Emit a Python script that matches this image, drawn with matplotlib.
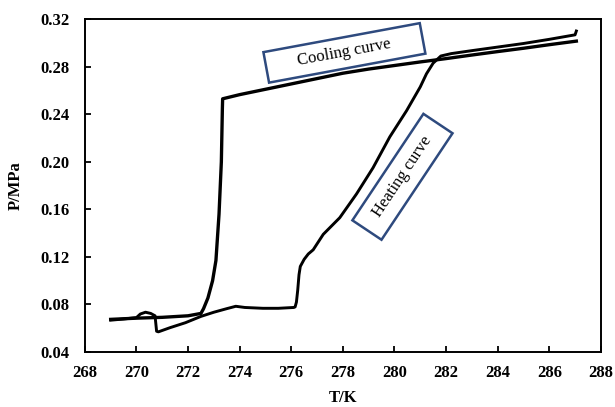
import matplotlib
matplotlib.use("Agg")
import matplotlib.pyplot as plt
import matplotlib.patches as mpatches
import matplotlib.transforms as mtransforms

# Cooling curve (from high T down to low T)
cooling_T = [287.05, 286.0, 285.0, 284.0, 283.0, 282.0, 281.0, 280.0, 279.0, 278.0,
             277.0, 276.0, 275.0, 274.0, 273.34, 273.33, 273.29, 273.2, 273.08,
             272.95, 272.77, 272.6, 272.5, 272.0, 271.0, 270.0, 269.0]
cooling_P = [0.3015, 0.2985, 0.2955, 0.2927, 0.2898, 0.2868, 0.2840, 0.2810, 0.2780, 0.2745,
             0.2700, 0.2655, 0.2610, 0.2565, 0.2530, 0.2450, 0.2000, 0.1560, 0.1170,
             0.1000, 0.0855, 0.0765, 0.0725, 0.0705, 0.0692, 0.0685, 0.0675]

# Heating curve (from low T up to high T)
heating_T = [269.0, 269.5, 270.0, 270.15, 270.35, 270.55, 270.72, 270.78, 270.85, 271.3,
             271.9, 272.5, 273.0, 273.5, 273.85, 274.2, 274.9, 275.5, 276.1, 276.15,
             276.2, 276.25, 276.3, 276.35, 276.5, 276.66, 276.85, 277.24, 277.88, 278.53,
             279.17, 279.82, 280.47, 281.0, 281.24, 281.5, 281.8, 282.2, 283.0, 284.0,
             285.0, 286.0, 287.0, 287.05]
heating_P = [0.0668, 0.0678, 0.0690, 0.0720, 0.0735, 0.0725, 0.0705, 0.0575, 0.0570, 0.0605,
             0.0647, 0.0700, 0.0735, 0.0765, 0.0785, 0.0775, 0.0768, 0.0768, 0.0775, 0.0780,
             0.0820, 0.0920, 0.1050, 0.1120, 0.1180, 0.1225, 0.1260, 0.1390, 0.1530, 0.1730,
             0.1950, 0.2210, 0.2430, 0.2630, 0.2740, 0.2830, 0.2890, 0.2910, 0.2935, 0.2965,
             0.2995, 0.3030, 0.3068, 0.3100]

x_ticks = [268, 270, 272, 274, 276, 278, 280, 282, 284, 286, 288]
y_ticks = [0.04, 0.08, 0.12, 0.16, 0.20, 0.24, 0.28, 0.32]
x_label = "T/K"
y_label = "P/MPa"

serif = "Liberation Serif"
fig = plt.figure(figsize=(6.15, 4.07), dpi=100)
ax = fig.add_axes([0.138, 0.135, 0.839, 0.818])

ax.plot(cooling_T, cooling_P, color="black", lw=2.4, solid_joinstyle="round")
ax.plot(heating_T, heating_P, color="black", lw=2.1, solid_joinstyle="round")

ax.set_xlim(268, 288)
ax.set_ylim(0.04, 0.32)
ax.set_xticks(x_ticks)
ax.set_yticks(y_ticks)
ax.set_xticklabels([str(t) for t in x_ticks], fontfamily=serif, fontweight="bold", fontsize=12)
ax.set_yticklabels([f"{t:.2f}" for t in y_ticks], fontfamily=serif, fontweight="bold", fontsize=12)
ax.tick_params(axis="x", direction="in", length=4, width=1.3, pad=9)
ax.tick_params(axis="y", direction="in", length=4, width=1.3, pad=11)
for s in ax.spines.values():
    s.set_linewidth(1.4)

ax.set_xlabel(x_label, fontfamily=serif, fontweight="bold", fontsize=12, labelpad=7)
ax.set_ylabel(y_label, fontfamily=serif, fontweight="bold", fontsize=12, labelpad=12)

box_color = "#2E4A7E"

def label_box(cx, cy, text, angle, w_in, h_in):
    tr = (mtransforms.Affine2D().rotate_deg(angle) + fig.dpi_scale_trans
          + mtransforms.ScaledTranslation(cx, cy, ax.transData))
    rect = mpatches.Rectangle((-w_in / 2, -h_in / 2), w_in, h_in, transform=tr,
                              facecolor="white", edgecolor=box_color, lw=1.8, zorder=3)
    ax.add_patch(rect)
    ax.text(cx, cy, text, rotation=angle, rotation_mode="anchor", ha="center", va="center",
            fontfamily=serif, fontsize=12, zorder=4)

label_box(278.06, 0.2916, "Cooling curve", 10.5, 1.59, 0.31)
label_box(280.31, 0.1874, "Heating curve", 56.3, 1.28, 0.35)

fig.savefig("out.png", dpi=100)
